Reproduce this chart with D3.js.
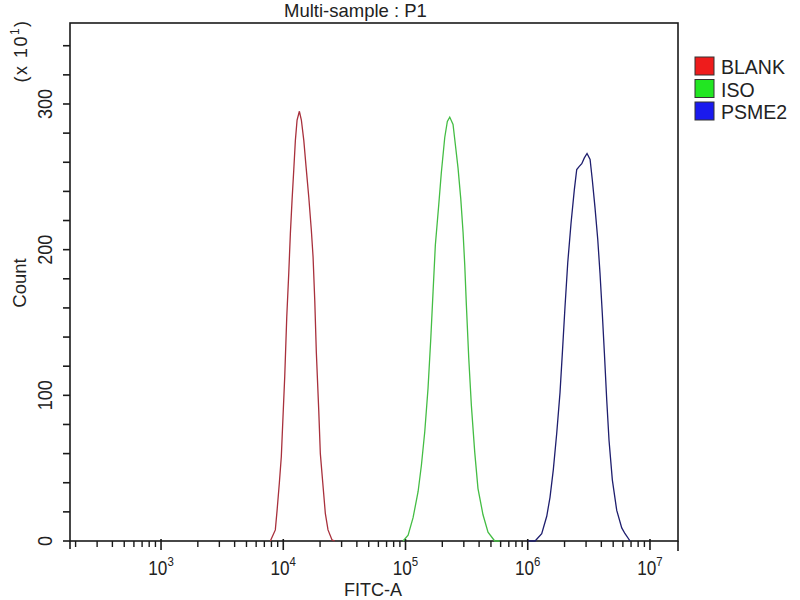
<!DOCTYPE html>
<html>
<head>
<meta charset="utf-8">
<script src="https://cdn.jsdelivr.net/npm/d3@7"></script>
<style>
  html, body { margin: 0; padding: 0; background: #fff; }
  svg { display: block; font-family: "Liberation Sans", Arial, sans-serif; }
</style>
</head>
<body>
<svg id="chart" width="800" height="600"></svg>
<script>
// ---- data (FITC-A value, count in units of x10) ----
const seriesNames = ["BLANK", "ISO", "PSME2"];
const lineColors = ["#a8303c", "#44bd44", "#1e1e6e"];
const legendColors = ["#ee1c1c", "#22e622", "#1a1aee"];

const blankFitc = [7840, 8610, 8900, 9290, 9640, 9900, 10280, 10680, 11090, 11430, 11800, 12190, 12560, 12970, 13550,
  14060, 14720, 15360, 16170, 16980, 17530, 18100, 18650, 19500, 20100, 21040, 22080, 23230, 25060, 26370];
const blankCount = [0, 7.6, 21, 40, 58, 81, 113, 154, 184, 211, 234, 255, 275, 289, 295,
  289, 275, 257, 236, 213, 195, 165, 129, 90, 60, 40, 19, 7.6, 0.7, 0];

const isoFitc = [95500, 105000, 115300, 126800, 134900, 143700, 152900, 161000, 168000, 175400, 187100, 196400, 209400, 219900, 230100,
  244800, 255800, 269000, 283100, 295700, 305400, 314700, 328900, 345800, 368300, 391700, 430500, 473100, 536700, 590200];
const isoCount = [0, 4, 16, 34, 52, 75, 105, 139, 171, 203, 231, 253, 277, 288, 291,
  286, 272, 256, 235, 212, 189, 162, 126, 93, 61, 36, 18, 6, 0, 0];

const psmeFitc = [1012000, 1148000, 1301000, 1430000, 1521000, 1619000, 1726000, 1837000, 1919000, 2018000, 2124000, 2259000,
  2404000, 2516000, 2630000, 2767000, 2904000, 3055000, 3236000, 3373000, 3548000, 3739000, 3899000, 4074000, 4236000,
  4426000, 4624000, 4920000, 5346000, 5875000, 6252000, 6871000];
const psmeCount = [0, 0, 5, 17, 30, 49, 74, 102, 129, 161, 191, 218,
  241, 255, 257, 259, 263, 266, 262, 248, 229, 207, 184, 156, 129,
  97, 69, 42, 21, 9, 5, 0];

const xMajorExps = [3, 4, 5, 6, 7];
const yMajorTicks = [0, 100, 200, 300];
const xDomain = [180, 16950000];
const yDomain = [0, 355.6];

const titleText = "Multi-sample : P1";
const xLabel = "FITC-A";
const yLabel = "Count";

// ---- layout ----
const svg = d3.select("#chart");
const L = 70, R = 678, T = 23, B = 541;
const x = d3.scaleLog().domain(xDomain).range([L, R]);
const y = d3.scaleLinear().domain(yDomain).range([B, T]);
const ink = "#1a1a1a";

// frame
svg.append("rect").attr("x", L).attr("y", T).attr("width", R - L).attr("height", B - T)
  .attr("fill", "none").attr("stroke", ink).attr("stroke-width", 1.6);
svg.append("line").attr("x1", L).attr("x2", L).attr("y1", B).attr("y2", B + 8).attr("stroke", ink).attr("stroke-width", 1.6);
svg.append("line").attr("x1", R).attr("x2", R).attr("y1", B).attr("y2", B + 10).attr("stroke", ink).attr("stroke-width", 1.6);

// x ticks
const xMinor = [];
for (let e = 2; e <= 7; e++) for (let m = 2; m <= 9; m++) {
  const v = m * Math.pow(10, e);
  if (v >= xDomain[0] && v <= xDomain[1]) xMinor.push(v);
}
const gx = svg.append("g");
gx.selectAll("line.minor").data(xMinor).join("line")
  .attr("x1", d => x(d)).attr("x2", d => x(d)).attr("y1", B).attr("y2", B + 6)
  .attr("stroke", ink).attr("stroke-width", 1.4);
gx.selectAll("line.major").data(xMajorExps).join("line")
  .attr("x1", d => x(Math.pow(10, d))).attr("x2", d => x(Math.pow(10, d))).attr("y1", B - 2).attr("y2", B + 9)
  .attr("stroke", ink).attr("stroke-width", 1.6);
const xt = gx.selectAll("g.lab").data(xMajorExps).join("g")
  .attr("transform", d => `translate(${x(Math.pow(10, d))},575) scale(0.88,1)`)
  .append("text").attr("text-anchor", "middle").attr("font-size", 19.5).attr("fill", "#222");
xt.append("tspan").text("10");
xt.append("tspan").attr("dy", -9).attr("font-size", 13).text(d => d);

// y ticks
const yMinor = d3.range(0, 360, 20);
const gy = svg.append("g");
gy.selectAll("line").data(yMinor).join("line")
  .attr("x1", L - 7).attr("x2", L).attr("y1", d => y(d)).attr("y2", d => y(d))
  .attr("stroke", ink).attr("stroke-width", 1.6);
gy.selectAll("text").data(yMajorTicks).join("text")
  .attr("transform", d => `translate(52,${y(d)}) rotate(-90) scale(0.9,1)`)
  .attr("text-anchor", "middle").attr("font-size", 20).attr("fill", "#222")
  .text(d => d);

// labels
svg.append("text").attr("x", 284).attr("y", 17).attr("text-anchor", "start")
  .attr("font-size", 18.5).attr("fill", "#222").text(titleText);
svg.append("text").attr("x", 373).attr("y", 596).attr("text-anchor", "middle")
  .attr("font-size", 18).attr("fill", "#222").text(xLabel);
svg.append("text").attr("transform", "translate(26,283) rotate(-90)").attr("text-anchor", "middle")
  .attr("font-size", 18.5).attr("fill", "#222").text(yLabel);
const mult = svg.append("text").attr("transform", "translate(27,51) rotate(-90)").attr("text-anchor", "middle")
  .attr("font-size", 18).attr("fill", "#222").attr("letter-spacing", 1.5);
mult.append("tspan").text("(x 10");
mult.append("tspan").attr("dy", -8).attr("font-size", 12).text("1");
mult.append("tspan").attr("dy", 8).text(")");

// curves
const series = [
  { f: blankFitc, c: blankCount },
  { f: isoFitc, c: isoCount },
  { f: psmeFitc, c: psmeCount }
];
const line = d3.line().x(d => x(d[0])).y(d => y(d[1]));
series.forEach((s, i) => {
  const pts = s.f.map((v, k) => [v, s.c[k]]);
  svg.append("path").attr("d", line(pts)).attr("fill", "none")
    .attr("stroke", lineColors[i]).attr("stroke-width", 1.3);
});

// legend
const lg = svg.append("g");
seriesNames.forEach((n, i) => {
  const yy = 57 + i * 22.5;
  lg.append("rect").attr("x", 695).attr("y", yy).attr("width", 19).attr("height", 18)
    .attr("fill", legendColors[i]).attr("stroke", "#333").attr("stroke-width", 1);
  lg.append("text").attr("x", 721).attr("y", yy + 17).attr("font-size", 19.5).attr("fill", "#222").text(n);
});
</script>
</body>
</html>
